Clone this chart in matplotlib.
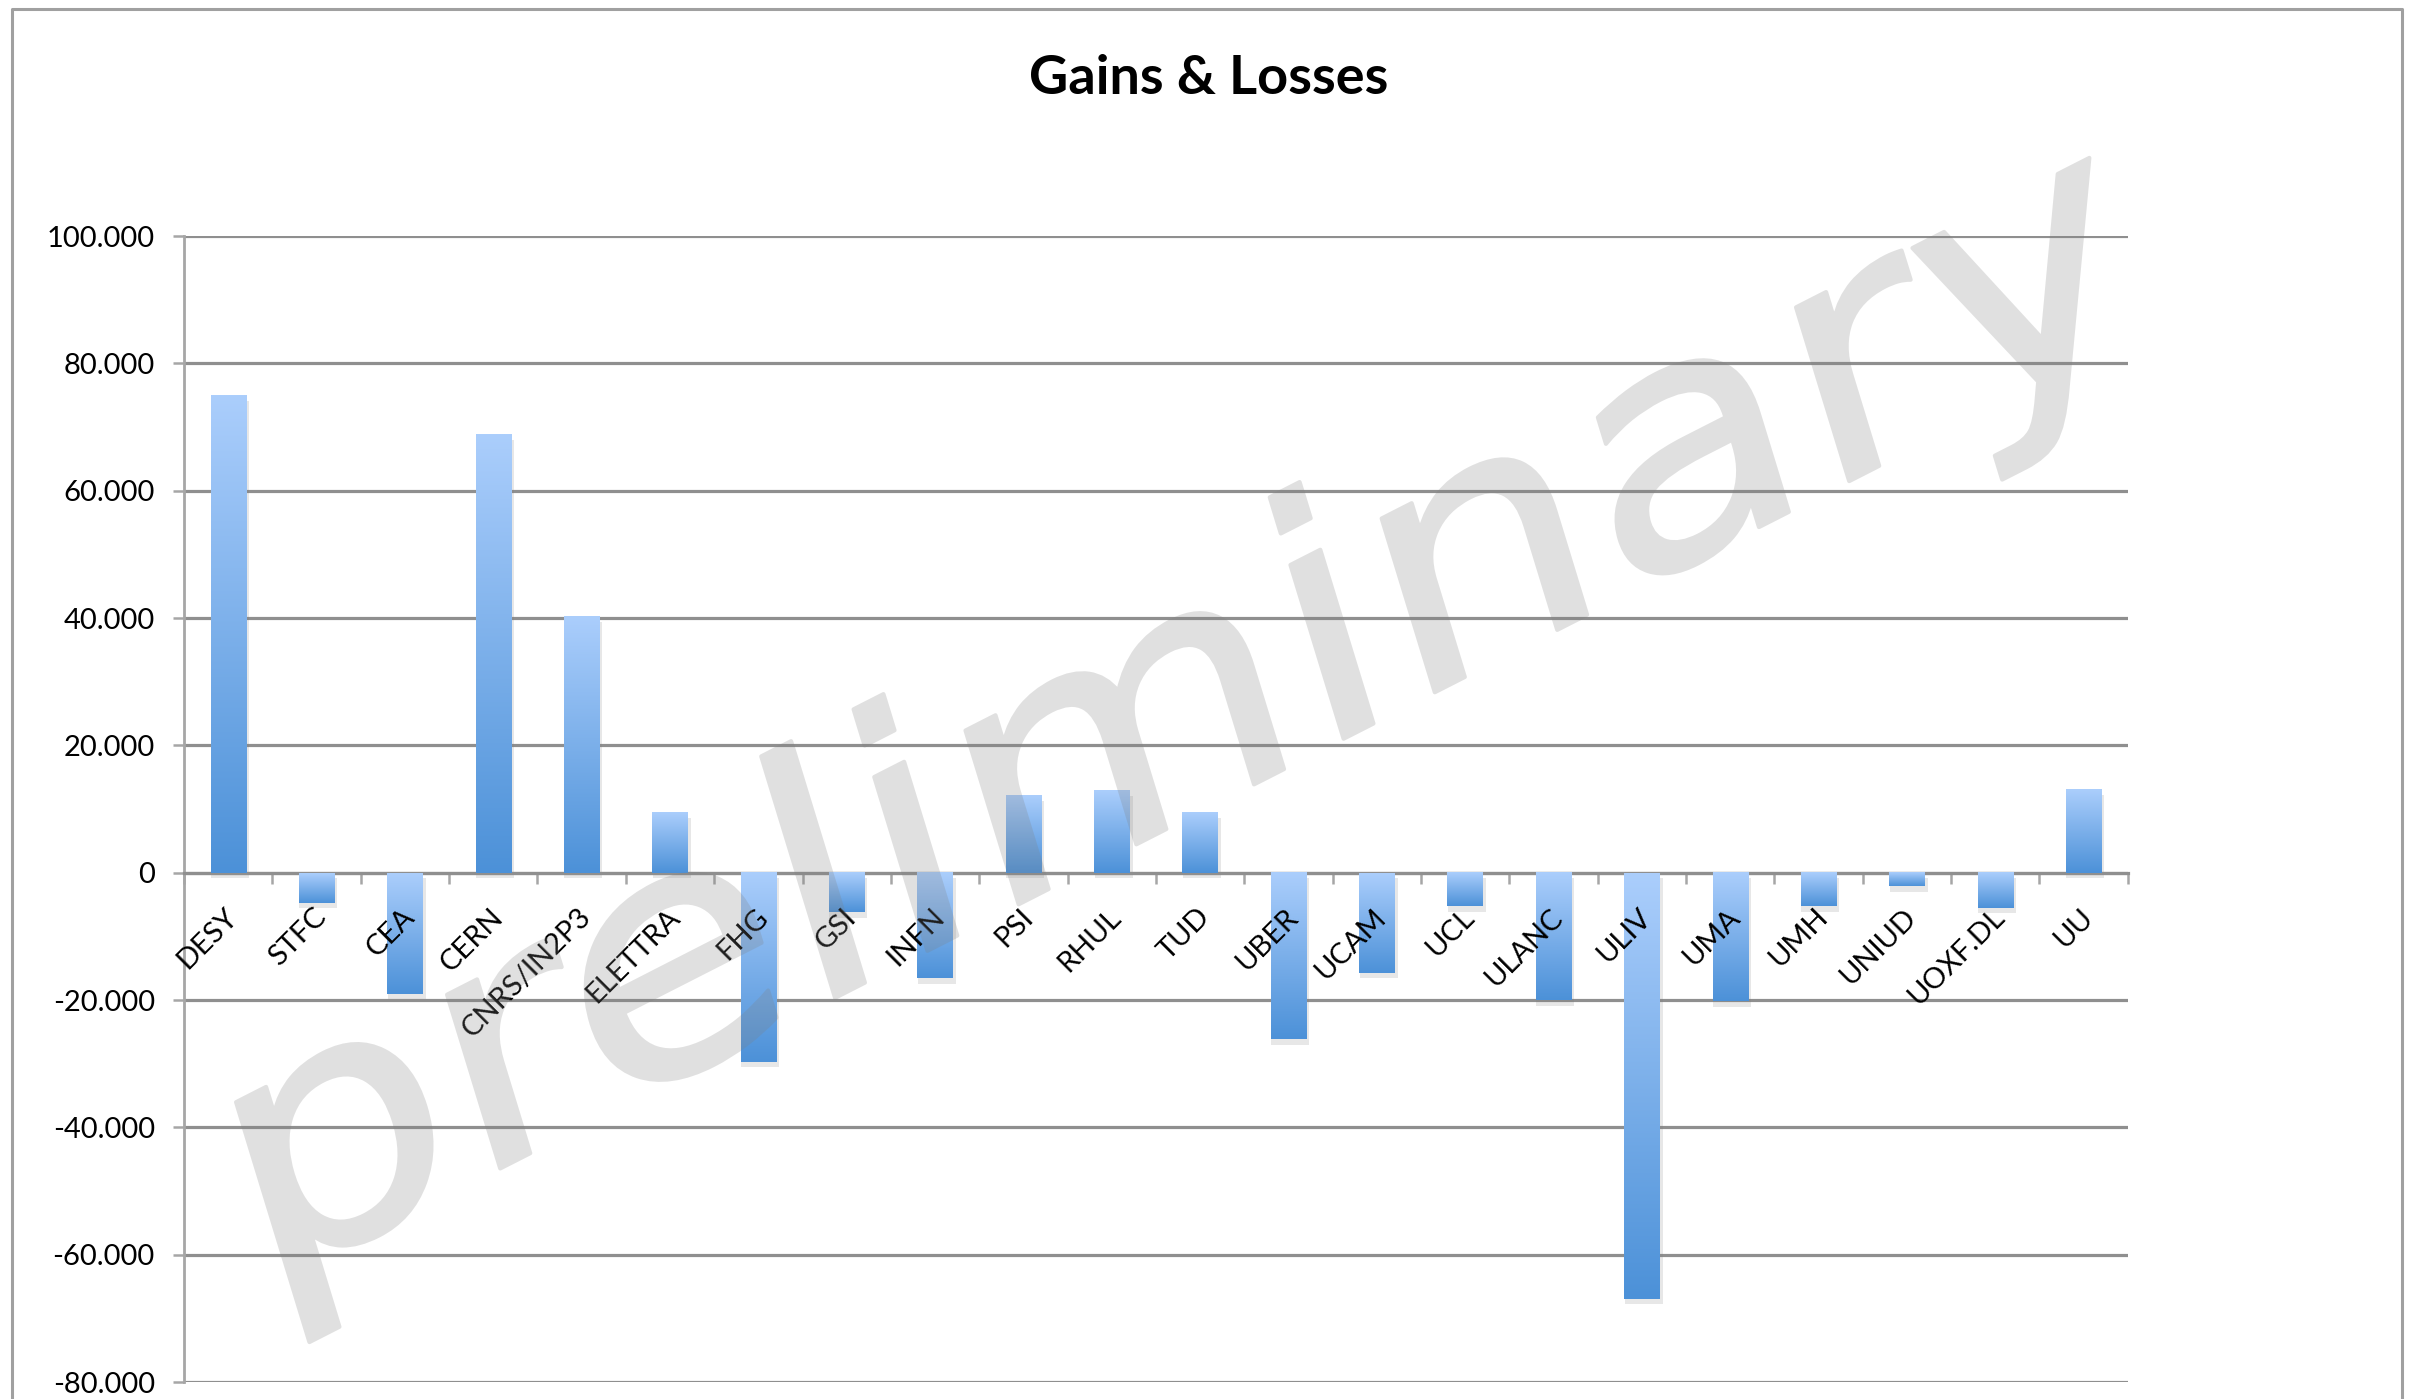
import numpy as np
import matplotlib
matplotlib.use("Agg")
import matplotlib.pyplot as plt
from matplotlib.colors import LinearSegmentedColormap
from matplotlib.ticker import FuncFormatter, FixedLocator
from matplotlib.textpath import TextPath
from matplotlib.patches import PathPatch
from matplotlib.font_manager import FontProperties
from matplotlib.lines import Line2D
from matplotlib.transforms import Affine2D

# data
partners = ["DESY", "STFC", "CEA", "CERN", "CNRS/IN2P3", "ELETTRA", "FHG", "GSI",
            "INFN", "PSI", "RHUL", "TUD", "UBER", "UCAM", "UCL", "ULANC", "ULIV",
            "UMA", "UMH", "UNIUD", "UOXF.DL", "UU"]
gains = [75000, -4700, -19000, 68900, 40300, 9500, -29700, -6200,
         -16600, 12200, 13000, 9500, -26200, -15700, -5200, -20000, -66900,
         -20200, -5200, -2100, -5500, 13100]
y_ticks = [-80000, -60000, -40000, -20000, 0, 20000, 40000, 60000, 80000, 100000]

plt.rcParams["font.family"] = ["Lato", "DejaVu Sans"]
GRID = "#8f8f8f"
AXIS = "#a6a6a6"

fig = plt.figure(figsize=(24.18, 13.99), dpi=100, facecolor="white")
ax = fig.add_axes([0.0761, 0.01215, 0.8039, 0.81915])

bar_cmap = LinearSegmentedColormap.from_list("bar", ["#abcefc", "#4c91d8"])
grad = np.linspace(0, 1, 256).reshape(-1, 1)
width = 0.40
x = np.arange(len(partners))
for xi, v in zip(x, gains):
    lo, hi = min(0, v), max(0, v)
    # soft shadow
    ax.bar(xi + 0.02, hi - lo, bottom=lo - 900, width=width + 0.03,
           color="#7a7a7a", alpha=0.18, zorder=2, linewidth=0)
    ax.imshow(grad, extent=[xi - width / 2, xi + width / 2, lo, hi],
              cmap=bar_cmap, aspect="auto", origin="upper", zorder=3,
              interpolation="bilinear")

ax.set_xlim(-0.5, len(partners) - 0.5)
ax.set_ylim(-80000, 100000)
ax.set_aspect("auto")

ax.yaxis.set_major_locator(FixedLocator(y_ticks))
ax.yaxis.set_major_formatter(FuncFormatter(lambda v, p: f"{int(v):,}".replace(",", ".")))
ax.grid(axis="y", color=GRID, linewidth=2.3, zorder=1)
ax.set_axisbelow(True)

# category labels sit just under the zero line, tilted 45 degrees
ax.set_xticks([])
ax.set_xticks(np.arange(len(partners) + 1) - 0.5, minor=True)
ax.tick_params(axis="x", which="minor", length=8, width=1.8, color=AXIS,
               direction="out")
for xi, name in zip(x, partners):
    ax.annotate(name, xy=(xi, 0), xytext=(4, -29), textcoords="offset points",
                rotation=45, rotation_mode="anchor", ha="right", va="center",
                fontsize=21, zorder=4)
ax.tick_params(axis="y", length=8, width=1.8, color=AXIS, labelsize=21, pad=13)

for s in ["top", "right"]:
    ax.spines[s].set_visible(False)
ax.spines["bottom"].set_position(("data", 0))
ax.spines["bottom"].set_color(GRID)
ax.spines["bottom"].set_linewidth(2.3)
ax.spines["left"].set_color(AXIS)
ax.spines["left"].set_linewidth(2.0)

fig.text(0.5, 1 - 93.5 / 1399, "Gains & Losses", ha="center", va="baseline",
         fontsize=39, fontweight="bold")

# outer chart frame (bottom edge is cut off in the reference)
fx0, fx1, fy1 = 12 / 2418, 2402 / 2418, 1 - 9 / 1399
fig.add_artist(Line2D([fx0, fx0, fx1, fx1], [-0.01, fy1, fy1, -0.01],
                      transform=fig.transFigure, color="#a0a0a0", linewidth=2.2))


# watermark: drawn opaque, then faded as a whole so fill and outline don't stack
def fade(img, dpi):
    img = img.copy()
    img[..., 3] *= 0.24
    return img, 0, 0


tp = TextPath((0, 0), "preliminary", size=1, prop=FontProperties(family="DejaVu Sans"))
ext = tp.get_extents()
sx = 2080 / ext.width
sy = 180 / 0.55
tr = (Affine2D().translate(-ext.x0, -0.28).scale(sx, sy).skew_deg(10, 0)
      .rotate_deg(27).translate(262, 212))
wm = PathPatch(tp, transform=tr, facecolor="#808080", edgecolor="#808080",
               linewidth=3, joinstyle="round", zorder=10)
wm.set_agg_filter(fade)
fig.add_artist(wm)

fig.savefig("out.png", dpi=100, facecolor="white")
